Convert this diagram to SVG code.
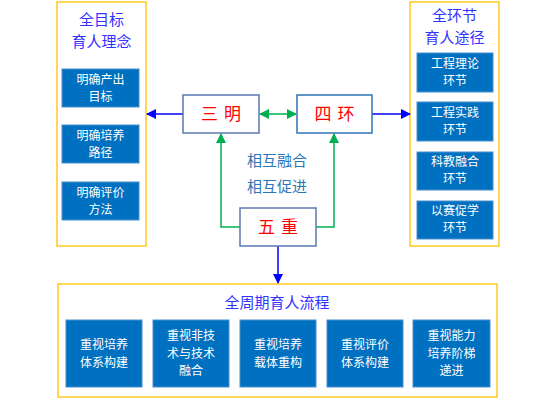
<svg xmlns="http://www.w3.org/2000/svg" width="556" height="405" viewBox="0 0 556 405">
<defs>
<style>
.panel{fill:#fff;stroke:#ffc000;stroke-width:1.3}
.blk{fill:#0070c0;stroke:#4a90d0;stroke-width:1}
.bt{font-family:"Noto Sans CJK SC","Noto Sans",sans-serif;font-size:12px;fill:#fff;text-anchor:middle}
.pt{font-family:"Noto Sans CJK SC","Noto Sans",sans-serif;font-size:15px;fill:#3333ff;text-anchor:middle}
.core{fill:#fff;stroke-width:1.5}
.ct{font-family:"Noto Sans CJK SC","Noto Sans",sans-serif;font-size:17px;fill:#ff0000;text-anchor:middle;letter-spacing:6px}
.mt{font-family:"Noto Sans CJK SC","Noto Sans",sans-serif;font-size:15px;fill:#2e75b6;text-anchor:middle}
.bl{stroke:#0000ff;stroke-width:1.5;fill:none}
.gl{stroke:#00b050;stroke-width:1.5;fill:none}
</style>
<marker id="ab" markerWidth="10" markerHeight="10" refX="9" refY="5" orient="auto" markerUnits="userSpaceOnUse"><path d="M0,0 L10,5 L0,10 Z" fill="#0000ff"/></marker>
<marker id="ag" markerWidth="10" markerHeight="10" refX="9" refY="5" orient="auto" markerUnits="userSpaceOnUse"><path d="M0,0 L10,5 L0,10 Z" fill="#00b050"/></marker>
<marker id="ags" markerWidth="10" markerHeight="10" refX="1" refY="5" orient="auto" markerUnits="userSpaceOnUse"><path d="M10,0 L0,5 L10,10 Z" fill="#00b050"/></marker>
</defs>
<rect width="556" height="405" fill="#fff"/>

<g id="left-panel">
<rect class="panel" x="57" y="2" width="89" height="244"/>
<text class="pt" x="101.5" y="25">全目标</text>
<text class="pt" x="101.5" y="47">育人理念</text>
<rect class="blk" x="62" y="69" width="77" height="38"/>
<text class="bt" x="100.5" y="83.5">明确产出</text>
<text class="bt" x="100.5" y="101">目标</text>
<rect class="blk" x="62" y="125" width="77" height="38"/>
<text class="bt" x="100.5" y="139.5">明确培养</text>
<text class="bt" x="100.5" y="157">路径</text>
<rect class="blk" x="62" y="182" width="77" height="38"/>
<text class="bt" x="100.5" y="196.5">明确评价</text>
<text class="bt" x="100.5" y="214">方法</text>
</g>

<g id="right-panel">
<rect class="panel" x="410" y="2" width="89" height="244"/>
<text class="pt" x="454.5" y="21">全环节</text>
<text class="pt" x="454.5" y="43">育人途径</text>
<rect class="blk" x="417" y="53" width="76" height="39"/>
<text class="bt" x="455" y="67.5">工程理论</text>
<text class="bt" x="455" y="85">环节</text>
<rect class="blk" x="417" y="102" width="76" height="39"/>
<text class="bt" x="455" y="116.5">工程实践</text>
<text class="bt" x="455" y="134">环节</text>
<rect class="blk" x="417" y="152" width="76" height="38"/>
<text class="bt" x="455" y="165.5">科教融合</text>
<text class="bt" x="455" y="183">环节</text>
<rect class="blk" x="417" y="201" width="76" height="38"/>
<text class="bt" x="455" y="214.5">以赛促学</text>
<text class="bt" x="455" y="232">环节</text>
</g>

<g id="connectors">
<line class="bl" x1="183" y1="114" x2="147" y2="114" marker-end="url(#ab)"/>
<line class="bl" x1="372" y1="114" x2="410" y2="114" marker-end="url(#ab)"/>
<line class="gl" x1="260" y1="114" x2="296" y2="114" marker-start="url(#ags)" marker-end="url(#ag)"/>
<polyline class="gl" points="240,227 221,227 221,134" marker-end="url(#ag)"/>
<polyline class="gl" points="316,227 334,227 334,134" marker-end="url(#ag)"/>
<line class="bl" x1="278" y1="246" x2="278" y2="283" marker-end="url(#ab)"/>
</g>

<g id="sanming">
<rect class="core" x="183" y="95" width="76" height="38" stroke="#5a7ab0"/>
<text class="ct" x="224" y="120">三明</text>
</g>
<g id="sihuan">
<rect class="core" x="297" y="95" width="75" height="38" stroke="#2e75b6"/>
<text class="ct" x="337.5" y="120">四环</text>
</g>
<g id="wuzhong">
<rect class="core" x="240" y="208" width="76" height="38" stroke="#5a7ab0"/>
<text class="ct" x="281" y="233">五重</text>
</g>
<g id="mid-label">
<text class="mt" x="277" y="166">相互融合</text>
<text class="mt" x="277" y="192">相互促进</text>
</g>

<g id="bottom-panel">
<rect class="panel" x="58" y="284" width="439" height="113"/>
<text class="pt" x="277" y="308">全周期育人流程</text>
<rect class="blk" x="66" y="320" width="76" height="67"/>
<text class="bt" x="104" y="349">重视培养</text>
<text class="bt" x="104" y="366.5">体系构建</text>
<rect class="blk" x="153" y="320" width="76" height="67"/>
<text class="bt" x="191" y="340">重视非技</text>
<text class="bt" x="191" y="357.5">术与技术</text>
<text class="bt" x="191" y="375">融合</text>
<rect class="blk" x="240" y="320" width="76" height="67"/>
<text class="bt" x="278" y="349">重视培养</text>
<text class="bt" x="278" y="366.5">载体重构</text>
<rect class="blk" x="327" y="320" width="76" height="67"/>
<text class="bt" x="365" y="349">重视评价</text>
<text class="bt" x="365" y="366.5">体系构建</text>
<rect class="blk" x="413" y="320" width="77" height="67"/>
<text class="bt" x="451.5" y="340">重视能力</text>
<text class="bt" x="451.5" y="357.5">培养阶梯</text>
<text class="bt" x="451.5" y="375">递进</text>
</g>
</svg>
